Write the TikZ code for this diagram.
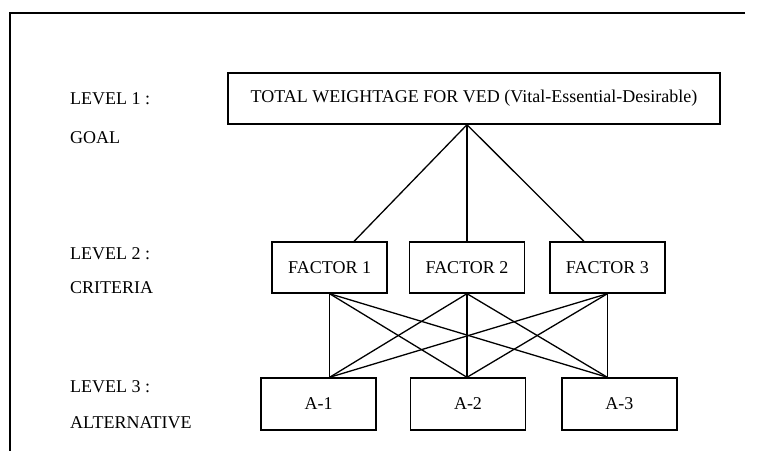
\documentclass[tikz,border=0pt]{standalone}
\usepackage{fontspec}
\setmainfont{Liberation Serif}
\usepackage{tikz}
\usetikzlibrary{positioning,calc}

\begin{document}
\begin{tikzpicture}[x=1pt,y=-1pt,font=\fontsize{18}{20}\selectfont,
 box/.style={draw,line width=1.4pt,align=center,inner sep=2pt,minimum height=51pt},
 fbox/.style={box,minimum width=115pt},
 ln/.style={line width=1.3pt},
 lbl/.style={anchor=west,inner sep=0pt}]
\useasboundingbox (0,0) rectangle (758,451);
\draw[line width=2pt] (745,12.7) -- (10,12.7) -- (10,451);
\node[box,minimum width=492pt] (goal) at (474,98.5) {TOTAL WEIGHTAGE FOR VED (Vital-Essential-Desirable)};
\node[fbox] (f2) at (467,267.5) {FACTOR 2};
\node[fbox,left=21pt of f2] (f1) {FACTOR 1};
\node[fbox,right=24pt of f2] (f3) {FACTOR 3};
\node[fbox,minimum height=52pt] (a2) at (468,404) {A-2};
\node[fbox,minimum height=52pt,left=33pt of a2] (a1) {A-1};
\node[fbox,minimum height=52pt,right=35pt of a2] (a3) {A-3};
\node[lbl] (l1) at (70,98.5) {LEVEL 1 :};
\node[lbl] (n1) at (70,138) {GOAL};
\node[lbl] (l2) at (70,254) {LEVEL 2 :};
\node[lbl] (n2) at (70,288) {CRITERIA};
\node[lbl] (l3) at (70,387) {LEVEL 3 :};
\node[lbl] (n3) at (70,423) {ALTERNATIVE};
\coordinate (apex) at (goal.south -| f2.north);
\draw[ln] (apex) -- ([xshift=24.5pt]f1.north);
\draw[ln] (apex) -- (f2.north);
\draw[ln] (apex) -- ([xshift=-23.5pt]f3.north);
\foreach \j in {1,2,3} \coordinate (t\j) at (a\j.north -| f\j.south);
\foreach \i in {1,2,3}
 \foreach \j in {1,2,3}
  \draw[ln] (f\i.south) -- (t\j);
\end{tikzpicture}
\end{document}
